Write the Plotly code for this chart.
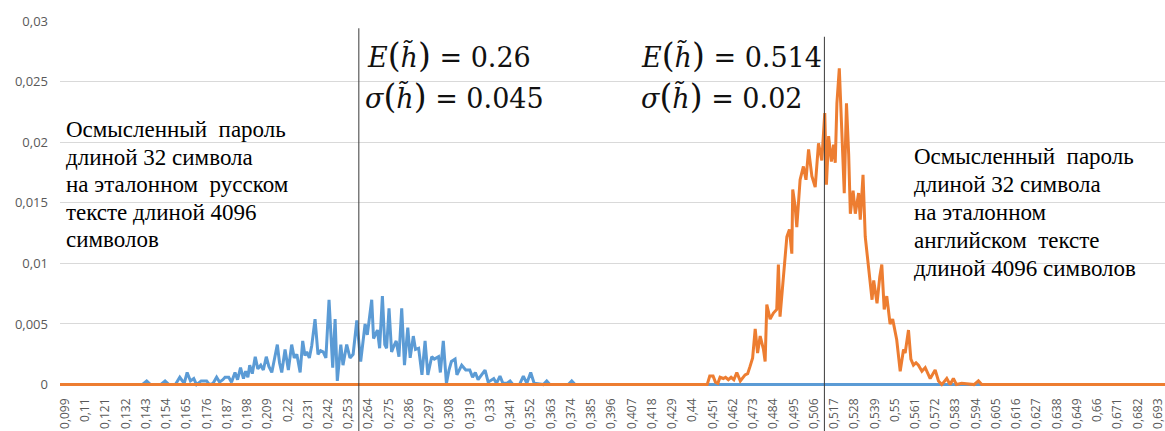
import plotly.graph_objects as go

# ---- data ----
x_tick_labels = ["0,099","0,11","0,121","0,132","0,143","0,154","0,165","0,176","0,187","0,198",
                 "0,209","0,22","0,231","0,242","0,253","0,264","0,275","0,286","0,297","0,308",
                 "0,319","0,33","0,341","0,352","0,363","0,374","0,385","0,396","0,407","0,418",
                 "0,429","0,44","0,451","0,462","0,473","0,484","0,495","0,506","0,517","0,528",
                 "0,539","0,55","0,561","0,572","0,583","0,594","0,605","0,616","0,627","0,638",
                 "0,649","0,66","0,671","0,682","0,693"]
y_tick_vals = [0, 0.005, 0.01, 0.015, 0.02, 0.025, 0.03]
y_tick_labels = ["0", "0,005", "0,01", "0,015", "0,02", "0,025", "0,03"]

ru_x = [0.0963, 0.141, 0.1434, 0.1455, 0.151, 0.1534, 0.1555, 0.159, 0.1614, 0.1624, 0.1638, 0.1654,
        0.1672, 0.169, 0.1705, 0.173, 0.1745, 0.176, 0.1775, 0.1795, 0.1814, 0.183, 0.1848, 0.186,
        0.188, 0.1895, 0.1914, 0.1928, 0.1944, 0.196, 0.1972, 0.1984, 0.1994, 0.2008, 0.2024, 0.2038,
        0.2054, 0.2068, 0.2084, 0.2098, 0.2114, 0.2144, 0.2156, 0.2168, 0.2186, 0.2204, 0.2222, 0.2236,
        0.225, 0.2268, 0.2282, 0.2294, 0.2304, 0.2318, 0.2331, 0.2349, 0.2365, 0.2379, 0.2393, 0.2408,
        0.2425, 0.2445, 0.2458, 0.247, 0.2489, 0.2501, 0.2521, 0.2539, 0.2556, 0.2576, 0.2597, 0.2621,
        0.2633, 0.2657, 0.2667, 0.2675, 0.2688, 0.27, 0.2715, 0.2728, 0.2738, 0.2751, 0.2765, 0.2778,
        0.279, 0.2805, 0.282, 0.2835, 0.2853, 0.2866, 0.2883, 0.2895, 0.2912, 0.293, 0.2947, 0.2962,
        0.2983, 0.2997, 0.302, 0.303, 0.3046, 0.3063, 0.3077, 0.309, 0.311, 0.312, 0.3146, 0.3168,
        0.319, 0.3205, 0.322, 0.3235, 0.325, 0.3273, 0.329, 0.332, 0.3335, 0.3354, 0.337, 0.339,
        0.3409, 0.3425, 0.346, 0.3481, 0.35, 0.3521, 0.354, 0.359, 0.3608, 0.3625, 0.3725, 0.3744,
        0.3762, 0.6968]
ru_y = [0, 0, 0.0003, 0, 0, 0.0003, 0, 0, 0.0006, 0.0004, 0.0001, 0.001,
        0.0003, 0.0005, 0, 0.0003, 0.0003, 0.0003, 0, 0.0001, 0.0006, 0.0002, 0.0004, 0.0006,
        0.0006, 0.0002, 0.001, 0.0004, 0.0014, 0.0005, 0.0011, 0.0006, 0.0016, 0.0009, 0.0023, 0.0013,
        0.0016, 0.0012, 0.0023, 0.0015, 0.001, 0.0033, 0.0018, 0.001, 0.0029, 0.0012, 0.0033, 0.0022,
        0.0025, 0.001, 0.0036, 0.0024, 0.0027, 0.0022, 0.0032, 0.0054, 0.0025, 0.0028, 0.0027, 0.0022,
        0.007, 0.0014, 0.0054, 0.0003, 0.0033, 0.0016, 0.0033, 0.0022, 0.0025, 0.0053, 0.0019, 0.005,
        0.0041, 0.007, 0.0038, 0.0041, 0.0045, 0.003, 0.0073, 0.0033, 0.003, 0.0063, 0.0027, 0.0032,
        0.0036, 0.0023, 0.0063, 0.0016, 0.0047, 0.0022, 0.004, 0.0029, 0.003, 0.0008, 0.0036, 0.0008,
        0.0023, 0.0021, 0.0023, 0.001, 0.0036, 0.0001, 0.0012, 0.0019, 0.0021, 0.0008, 0.0016, 0.0012,
        0.0012, 0.0006, 0.001, 0.0004, 0.0007, 0.0012, 0.0002, 0.0005, 0.0001, 0.0007, 0.0001, 0.0001,
        0.0003, 0, 0, 0.0007, 0.0001, 0.001, 0.0001, 0, 0.0003, 0, 0, 0.0003,
        0, 0]

en_x = [0.0963, 0.448, 0.4494, 0.4512, 0.4525, 0.4538, 0.455, 0.4568, 0.458, 0.4595, 0.461, 0.4625,
        0.4641, 0.466, 0.4686, 0.47, 0.4713, 0.4727, 0.4741, 0.4754, 0.4768, 0.4786, 0.4795, 0.4804,
        0.4822, 0.484, 0.4858, 0.4867, 0.4876, 0.4894, 0.4913, 0.4927, 0.494, 0.4945, 0.4958, 0.4967,
        0.4985, 0.5003, 0.5017, 0.5031, 0.5049, 0.5067, 0.5085, 0.5103, 0.5119, 0.5128, 0.514, 0.5155,
        0.5167, 0.5176, 0.5185, 0.5198, 0.5212, 0.5225, 0.5237, 0.5249, 0.5258, 0.5273, 0.5285, 0.5303,
        0.5312, 0.5327, 0.5339, 0.5348, 0.5361, 0.5376, 0.5385, 0.5403, 0.5418, 0.5429, 0.5442, 0.5456,
        0.5474, 0.5488, 0.551, 0.5529, 0.5547, 0.5556, 0.5574, 0.5587, 0.5601, 0.5615, 0.5628, 0.5647,
        0.5665, 0.5692, 0.5719, 0.5737, 0.5755, 0.5782, 0.58, 0.5818, 0.5835, 0.5863, 0.593, 0.5954,
        0.5972, 0.6968]
en_y = [0, 0, 0.0007, 0.0007, 0.0002, 0.0001, 0.0006, 0.0005, 0.0006, 0.0004, 0.0006, 0.0004,
        0.001, 0.0003, 0.0008, 0.0009, 0.0015, 0.0022, 0.0046, 0.0026, 0.004, 0.0029, 0.0019, 0.0066,
        0.0054, 0.0059, 0.0062, 0.0099, 0.0056, 0.0092, 0.0122, 0.0128, 0.0108, 0.0161, 0.0147, 0.013,
        0.0169, 0.018, 0.0169, 0.0194, 0.0172, 0.0163, 0.0199, 0.0185, 0.0224, 0.0165, 0.0205, 0.0184,
        0.0198, 0.0183, 0.0232, 0.0261, 0.0206, 0.0158, 0.0232, 0.019, 0.0141, 0.016, 0.0141, 0.0158,
        0.0136, 0.0173, 0.0122, 0.0108, 0.0092, 0.007, 0.0086, 0.0067, 0.0089, 0.0099, 0.0062, 0.0073,
        0.005, 0.0054, 0.0037, 0.0011, 0.0029, 0.0026, 0.0045, 0.0021, 0.0016, 0.0018, 0.0016, 0.0011,
        0.0014, 0.0005, 0.0012, 0.0003, 0, 0.0005, 0, 0.0005, 0, 0.0001, 0, 0.0003,
        0, 0]

ru_caption = ["Осмысленный  пароль", "длиной 32 символа", "на эталонном  русском",
              "тексте длиной 4096", "символов"]
en_caption = ["Осмысленный  пароль", "длиной 32 символа", "на эталонном",
              "английском  тексте", "длиной 4096 символов"]

marker_lines_x = [0.2587, 0.5117]   # positions of the two vertical lines
marker_lines_top = [0.0294, 0.0287]

X_RANGE = [0.0963, 0.6968]
Y_RANGE = [-0.0002, 0.03]

x_tick_vals = [float(s.replace(",", ".")) for s in x_tick_labels]

fig = go.Figure()
fig.add_trace(go.Scatter(x=ru_x, y=ru_y, mode="lines",
                         line=dict(color="#5B9BD5", width=3), showlegend=False))
fig.add_trace(go.Scatter(x=en_x, y=en_y, mode="lines",
                         line=dict(color="#ED7D31", width=3), showlegend=False))

def xp(v):
    return (v - X_RANGE[0]) / (X_RANGE[1] - X_RANGE[0])

def yp(v):
    return (v - Y_RANGE[0]) / (Y_RANGE[1] - Y_RANGE[0])

for lx, top in zip(marker_lines_x, marker_lines_top):
    fig.add_shape(type="line", xref="paper", yref="paper",
                  x0=xp(lx), x1=xp(lx), y0=-0.13, y1=yp(top),
                  line=dict(color="#3a3a3a", width=1))

# text annotations
W, H = 1105.0, 366.4
def px(xpix):
    return (xpix - 60) / W
def py(ypix):
    return (387.4 - ypix) / H

LP = '<span style="font-size:33px">(</span>'
RP = '<span style="font-size:33px">)</span>'
formula_font = dict(family="DejaVu Serif", size=27, color="#111111")
formulas = [("<i>E</i>" + LP + "<i>h̃</i>" + RP + " = 0.26", 365, 56),
            ("<i>σ</i>" + LP + "<i>h̃</i>" + RP + " = 0.045", 363, 97),
            ("<i>E</i>" + LP + "<i>h̃</i>" + RP + " = 0.514", 639, 56),
            ("<i>σ</i>" + LP + "<i>h̃</i>" + RP + " = 0.02", 639, 97)]
for txt, fx, fy in formulas:
    fig.add_annotation(text=txt, xref="paper", yref="paper",
                       x=px(fx), y=py(fy), xanchor="left", yanchor="middle",
                       showarrow=False, font=formula_font)

caption_font = dict(family="Liberation Serif", size=23, color="#000000")
for i, line in enumerate(ru_caption):
    fig.add_annotation(text=line, xref="paper", yref="paper",
                       x=px(64), y=py(130 + 27.5 * i), xanchor="left", yanchor="middle",
                       showarrow=False, font=caption_font)
for i, line in enumerate(en_caption):
    fig.add_annotation(text=line, xref="paper", yref="paper",
                       x=px(912), y=py(157 + 28 * i), xanchor="left", yanchor="middle",
                       showarrow=False, font=caption_font)

fig.update_layout(
    width=1165, height=431,
    margin=dict(l=60, r=0, t=21, b=43.6),
    paper_bgcolor="white", plot_bgcolor="white",
    xaxis=dict(range=X_RANGE, tickmode="array", tickvals=x_tick_vals, ticktext=x_tick_labels,
               tickangle=-90, showgrid=False, zeroline=False, showline=False,
               ticks="", ticklabelstandoff=8, ticklabeloverflow="allow",
               tickfont=dict(family="Open Sans", size=12, color="#595959")),
    yaxis=dict(range=Y_RANGE, tickmode="array", tickvals=y_tick_vals, ticktext=y_tick_labels,
               showgrid=True, gridcolor="#D9D9D9", gridwidth=1, zeroline=False, showline=False,
               ticks="", ticklabelstandoff=11,
               tickfont=dict(family="Open Sans", size=13, color="#595959")),
)

fig.write_html("out.html", config={"displayModeBar": False},
               post_script="document.body.style.margin='0';document.body.style.overflow='hidden';")
